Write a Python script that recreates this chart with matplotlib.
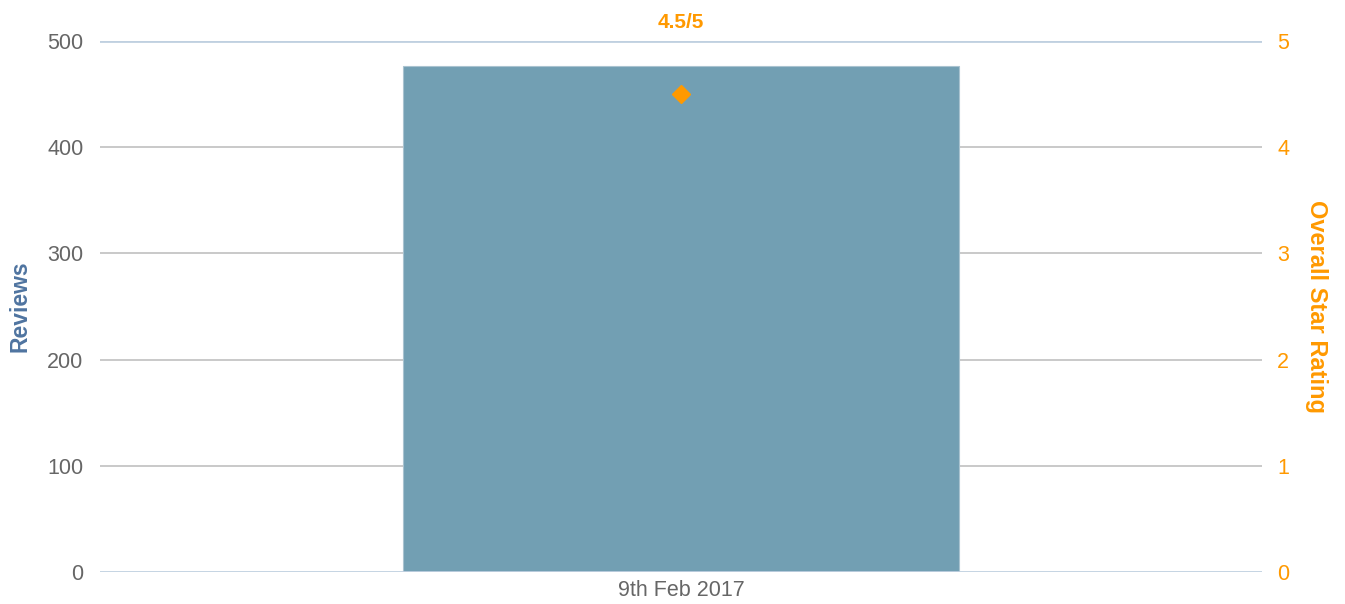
import matplotlib
matplotlib.use("Agg")
import matplotlib.pyplot as plt

categories = ["9th Feb 2017"]
reviews = [476]
ratings = [4.5]
rating_labels = ["4.5/5"]

left_ticks = [0, 100, 200, 300, 400, 500]
right_ticks = [0, 1, 2, 3, 4, 5]

BAR = "#729fb3"
ORANGE = "#ff9900"
TICK = "#666666"
GRID = "#c0c0c0"
EDGE_GRID = "#c0d0e0"

plt.rcParams["font.family"] = ["Liberation Sans", "DejaVu Sans"]

fig = plt.figure(figsize=(13.45, 6.04), dpi=100)
ax = fig.add_axes([100 / 1345, 32 / 604, 1162 / 1345, 531 / 604])
ax2 = ax.twinx()

xs = list(range(len(categories)))
ax.bar(xs, reviews, width=0.478, color=BAR, edgecolor="#a9c3d0",
       linewidth=0.8, zorder=3)
ax.set_xlim(-0.5, len(categories) - 0.5)
ax.set_ylim(0, 500)
ax.set_yticks(left_ticks)
ax.set_xticks(xs)
ax.set_xticklabels(categories)

for t in left_ticks[1:-1]:
    ax.axhline(t, color=GRID, linewidth=1.2, zorder=1)
ax.axhline(0, color=EDGE_GRID, linewidth=2, zorder=4)
ax.axhline(500, color=EDGE_GRID, linewidth=2, zorder=1)

ax2.set_ylim(0, 5)
ax2.set_yticks(right_ticks)
ax2.plot(xs, ratings, linestyle="none", marker="D", markersize=9,
         color=ORANGE, zorder=5)
for x, r, lab in zip(xs, ratings, rating_labels):
    ax2.annotate(lab, (x, 5), xytext=(0, 13), textcoords="offset points",
                 ha="center", va="center", color=ORANGE, fontsize=15,
                 fontweight="bold", annotation_clip=False)

for a in (ax, ax2):
    for s in a.spines.values():
        s.set_visible(False)
    a.tick_params(length=0)

ax.tick_params(axis="y", colors=TICK, labelsize=15.5, pad=12)
ax.tick_params(axis="x", colors=TICK, labelsize=15.5, pad=6)
ax2.tick_params(axis="y", colors=ORANGE, labelsize=15.5, pad=11)

ax.set_ylabel("Reviews", color="#4f74a0", fontsize=16.5, fontweight="bold",
              labelpad=11)
ax2.set_ylabel("Overall Star Rating", color=ORANGE, fontsize=17,
               fontweight="bold", rotation=270, labelpad=28)

fig.savefig("out.png", dpi=100, facecolor="white")
plt.close(fig)
